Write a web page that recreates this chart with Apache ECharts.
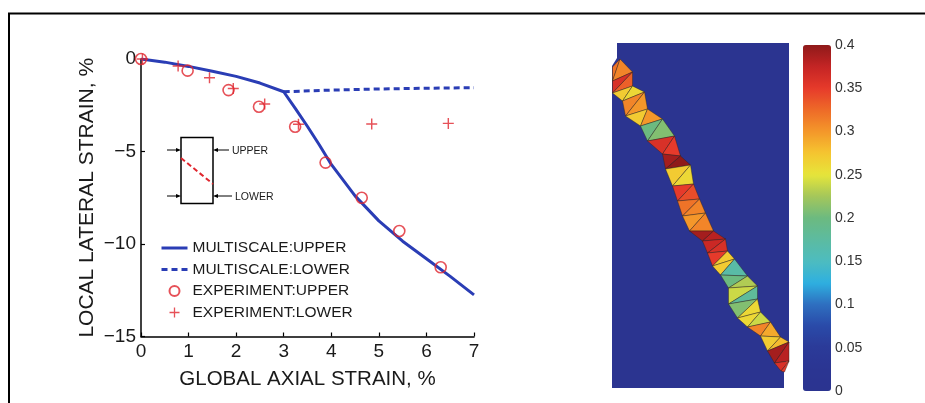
<!DOCTYPE html>
<html><head><meta charset="utf-8">
<script src="https://cdn.jsdelivr.net/npm/echarts@6/dist/echarts.min.js"></script>
<style>html,body{margin:0;padding:0;background:#fff}#c{width:925px;height:403px}</style>
</head><body><div id="c"></div>
<script>
// ---- left panel data ----
const simUpperX = [0, 0.5, 1, 1.5, 2, 2.5, 3, 3.25, 3.5, 3.75, 4, 4.5, 5, 5.5, 6, 6.5, 7];
const simUpperY = [0, -0.17, -0.4, -0.66, -0.94, -1.3, -1.77, -2.7, -3.65, -4.65, -5.7, -7.4, -8.75, -9.85, -10.8, -11.75, -12.75];
const simLowerX = [3, 4, 5, 6, 7];
const simLowerY = [-1.77, -1.68, -1.62, -1.58, -1.55];
const expUpperX = [0, 0.98, 1.84, 2.48, 3.24, 3.88, 4.64, 5.43, 6.3];
const expUpperY = [0, -0.63, -1.68, -2.58, -3.66, -5.6, -7.5, -9.3, -11.26];
const expLowerX = [0.03, 0.78, 1.44, 1.94, 2.6, 3.31, 4.85, 6.46];
const expLowerY = [0, -0.38, -1.01, -1.59, -2.43, -3.53, -3.51, -3.48];
const seriesNames = ['MULTISCALE:UPPER', 'MULTISCALE:LOWER', 'EXPERIMENT:UPPER', 'EXPERIMENT:LOWER'];

// ---- right panel data (mesh model coordinates) ----
const meshX = [5, 177, 177, 172, 172, 0, 0, 5];
const meshY = [0, 0, 302, 329, 345, 345, 23, 15];
const bandLX = [0.5, 0.5, 0.5, 10.5, 13.5, 28.5, 35.5, 50.5, 53.5, 60.5, 65.5, 70.5, 77.5, 90.5, 95.5, 100.5, 108.5, 116.5, 116.5, 125.5, 135.5, 148.5, 155.5, 162.5, 169];
const bandLY = [24, 38, 50, 58, 73, 83, 98, 111, 126, 143, 158, 173, 188, 198, 210, 223, 232, 245, 261, 275, 284, 293, 308, 320, 328];
const bandRX = [8, 20.5, 20.5, 32.5, 35.5, 50.5, 62.5, 68.5, 78.5, 81.5, 87.5, 93.5, 101.5, 113.5, 115.5, 122.5, 135.5, 145.5, 145.5, 148.5, 158.5, 168.5, 177, 177, 172.5];
const bandRY = [16, 29, 43, 49, 66, 76, 93, 113, 122, 141, 156, 170, 188, 196, 208, 216, 233, 243, 256, 269, 279, 294, 299, 318, 329];
const bandVal = [0.32, 0.31, 0.36, 0.33, 0.27, 0.26, 0.31, 0.30, 0.27, 0.30, 0.20, 0.21,
  0.36, 0.35, 0.39, 0.40, 0.27, 0.26, 0.35, 0.34, 0.32, 0.31, 0.30, 0.31,
  0.39, 0.38, 0.37, 0.36, 0.35, 0.27, 0.27, 0.17, 0.20, 0.23, 0.24, 0.18,
  0.21, 0.26, 0.26, 0.24, 0.31, 0.29, 0.27, 0.28, 0.39, 0.38, 0.36, 0.35];
const strainMin = 0, strainMax = 0.4, strainStep = 0.05;
const cmap = ['#2b3490', '#2b3592', '#2b3a98', '#2a4aa8', '#2e6fc0', '#2eb0e0', '#4dbcbf', '#5cbba0', '#6cba80',
  '#a4c65a', '#e6e53a', '#f5c530', '#f4972a', '#ee6a28', '#e63a2b', '#c42424', '#8f1a1a'];

const tris = [];
for (let i = 0; i < bandLX.length - 1; i++) {
  tris.push([bandLX[i], bandLY[i], bandRX[i], bandRY[i], bandLX[i + 1], bandLY[i + 1], bandVal[2 * i]]);
  tris.push([bandRX[i], bandRY[i], bandRX[i + 1], bandRY[i + 1], bandLX[i + 1], bandLY[i + 1], bandVal[2 * i + 1]]);
}
const zip = (a, b) => a.map((v, i) => [v, b[i]]);

const FONT = "'Liberation Sans', Arial, sans-serif";
const BLUE = '#2a3db5', RED = '#e0262e', INK = '#1a1a1a';
const plusPath = 'path://M-0.13,-1 L0.13,-1 L0.13,-0.13 L1,-0.13 L1,0.13 L0.13,0.13 L0.13,1 L-0.13,1 L-0.13,0.13 L-1,0.13 L-1,-0.13 L-0.13,-0.13 Z';
const minus = v => v < 0 ? '\u2212' + Math.abs(v) : String(v);

const chart = echarts.init(document.getElementById('c'), null, {renderer: 'canvas'});
chart.setOption({
  backgroundColor: '#fff',
  animation: false,
  textStyle: {fontFamily: FONT},
  grid: [
    {left: 141, top: 59, width: 333, height: 277.5},
    {left: 612, top: 43, width: 177, height: 345},
    {left: 803, top: 45, width: 28, height: 346}
  ],
  xAxis: [
    {gridIndex: 0, type: 'value', min: 0, max: 7, interval: 1,
      name: 'GLOBAL AXIAL STRAIN, %', nameLocation: 'middle', nameGap: 32,
      nameTextStyle: {fontSize: 20.5, color: INK, fontFamily: FONT},
      axisLine: {onZero: false, lineStyle: {color: '#000', width: 1.5}},
      axisTick: {inside: true, length: 4, lineStyle: {color: '#000', width: 1.2}},
      axisLabel: {fontSize: 19, color: INK, margin: 6, fontFamily: FONT},
      splitLine: {show: false}},
    {gridIndex: 1, type: 'value', min: 0, max: 177, show: false},
    {gridIndex: 2, type: 'value', min: 0, max: 1, show: false}
  ],
  yAxis: [
    {gridIndex: 0, type: 'value', min: -15, max: 0, interval: 5,
      name: 'LOCAL LATERAL STRAIN, %', nameLocation: 'middle', nameGap: 43, nameRotate: 90,
      nameTextStyle: {fontSize: 21, color: INK, fontFamily: FONT},
      axisLine: {show: true, onZero: false, lineStyle: {color: '#000', width: 1.5}},
      axisTick: {show: true, inside: true, length: 4, lineStyle: {color: '#000', width: 1.2}},
      axisLabel: {fontSize: 19, color: INK, margin: 5, formatter: minus, fontFamily: FONT},
      splitLine: {show: false}},
    {gridIndex: 1, type: 'value', min: 0, max: 345, inverse: true, show: false},
    {gridIndex: 2, type: 'value', min: strainMin, max: strainMax, interval: strainStep, position: 'right',
      axisLine: {show: false}, axisTick: {show: false}, splitLine: {show: false},
      axisLabel: {fontSize: 14, color: '#333', margin: 4, fontFamily: FONT,
        formatter: v => String(+v.toFixed(2))}}
  ],
  legend: {
    orient: 'vertical', left: 160, top: 240, padding: 0, itemGap: 5.5,
    itemWidth: 26, itemHeight: 10,
    textStyle: {fontSize: 15.5, color: INK, fontFamily: FONT},
    data: [
      {name: seriesNames[0], itemStyle: {opacity: 0}, lineStyle: {width: 3}},
      {name: seriesNames[1], itemStyle: {opacity: 0}, lineStyle: {width: 3}},
      {name: seriesNames[2]},
      {name: seriesNames[3]}
    ]
  },
  visualMap: {
    type: 'continuous', min: strainMin, max: strainMax, dimension: 6, seriesIndex: 5,
    inRange: {color: cmap}, orient: 'vertical', left: 803, top: 45, padding: 0,
    itemWidth: 28, itemHeight: 346, calculable: false, text: null, hoverLink: false
  },
  series: [
    {name: seriesNames[0], type: 'line', xAxisIndex: 0, yAxisIndex: 0, data: zip(simUpperX, simUpperY),
      symbol: 'none', lineStyle: {color: BLUE, width: 3}, itemStyle: {color: BLUE}, z: 3},
    {name: seriesNames[1], type: 'line', xAxisIndex: 0, yAxisIndex: 0, data: zip(simLowerX, simLowerY),
      symbol: 'none', lineStyle: {color: BLUE, width: 3, type: [6, 4]}, itemStyle: {color: BLUE}, z: 3},
    {name: seriesNames[2], type: 'scatter', xAxisIndex: 0, yAxisIndex: 0, data: zip(expUpperX, expUpperY),
      symbol: 'circle', symbolSize: 11,
      itemStyle: {color: 'rgba(0,0,0,0)', borderColor: RED, borderWidth: 1.6}, z: 4},
    {name: seriesNames[3], type: 'scatter', xAxisIndex: 0, yAxisIndex: 0, data: zip(expLowerX, expLowerY),
      symbol: plusPath, symbolSize: 11, itemStyle: {color: RED}, z: 4},
    {type: 'custom', xAxisIndex: 1, yAxisIndex: 1, data: [[0]], silent: true, z: 1,
      renderItem: (p, api) => ({type: 'polygon',
        shape: {points: meshX.map((x, i) => api.coord([x, meshY[i]]))},
        style: {fill: cmap[0], stroke: null}})},
    {type: 'custom', xAxisIndex: 1, yAxisIndex: 1, data: tris, silent: true, z: 2,
      encode: {x: [0, 2, 4], y: [1, 3, 5]},
      renderItem: (p, api) => ({type: 'polygon',
        shape: {points: [0, 1, 2].map(k => api.coord([api.value(2 * k), api.value(2 * k + 1)]))},
        style: {fill: api.visual('color'), stroke: 'rgba(45,35,25,0.6)', lineWidth: 0.7}})}
  ],
  graphic: [
    {type: 'polyline', shape: {points: [[9, 403], [9, 13.5], [925, 13.5]]}, style: {stroke: '#000', lineWidth: 2, fill: null}},
    {type: 'rect', shape: {x: 181, y: 137.5, width: 32, height: 66}, style: {stroke: '#000', lineWidth: 1.5, fill: null}, z: 5},
    {type: 'line', shape: {x1: 181, y1: 158, x2: 213, y2: 184}, style: {stroke: RED, lineWidth: 2, lineDash: [5, 3]}, z: 5},
    {type: 'line', shape: {x1: 167, y1: 150, x2: 177, y2: 150}, style: {stroke: '#000', lineWidth: 1}, z: 5},
    {type: 'polygon', shape: {points: [[181, 150], [176, 148], [176, 152]]}, style: {fill: '#000'}, z: 5},
    {type: 'line', shape: {x1: 167, y1: 196, x2: 177, y2: 196}, style: {stroke: '#000', lineWidth: 1}, z: 5},
    {type: 'polygon', shape: {points: [[181, 196], [176, 194], [176, 198]]}, style: {fill: '#000'}, z: 5},
    {type: 'line', shape: {x1: 217, y1: 150, x2: 229, y2: 150}, style: {stroke: '#000', lineWidth: 1}, z: 5},
    {type: 'polygon', shape: {points: [[213, 150], [218, 148], [218, 152]]}, style: {fill: '#000'}, z: 5},
    {type: 'line', shape: {x1: 217, y1: 196, x2: 232, y2: 196}, style: {stroke: '#000', lineWidth: 1}, z: 5},
    {type: 'polygon', shape: {points: [[213, 196], [218, 194], [218, 198]]}, style: {fill: '#000'}, z: 5},
    {type: 'text', x: 232, y: 151, style: {text: 'UPPER', font: "10.5px 'Liberation Sans', Arial", fill: INK, textVerticalAlign: 'middle'}, z: 5},
    {type: 'text', x: 235, y: 197, style: {text: 'LOWER', font: "10.5px 'Liberation Sans', Arial", fill: INK, textVerticalAlign: 'middle'}, z: 5}
  ]
});
</script></body></html>
